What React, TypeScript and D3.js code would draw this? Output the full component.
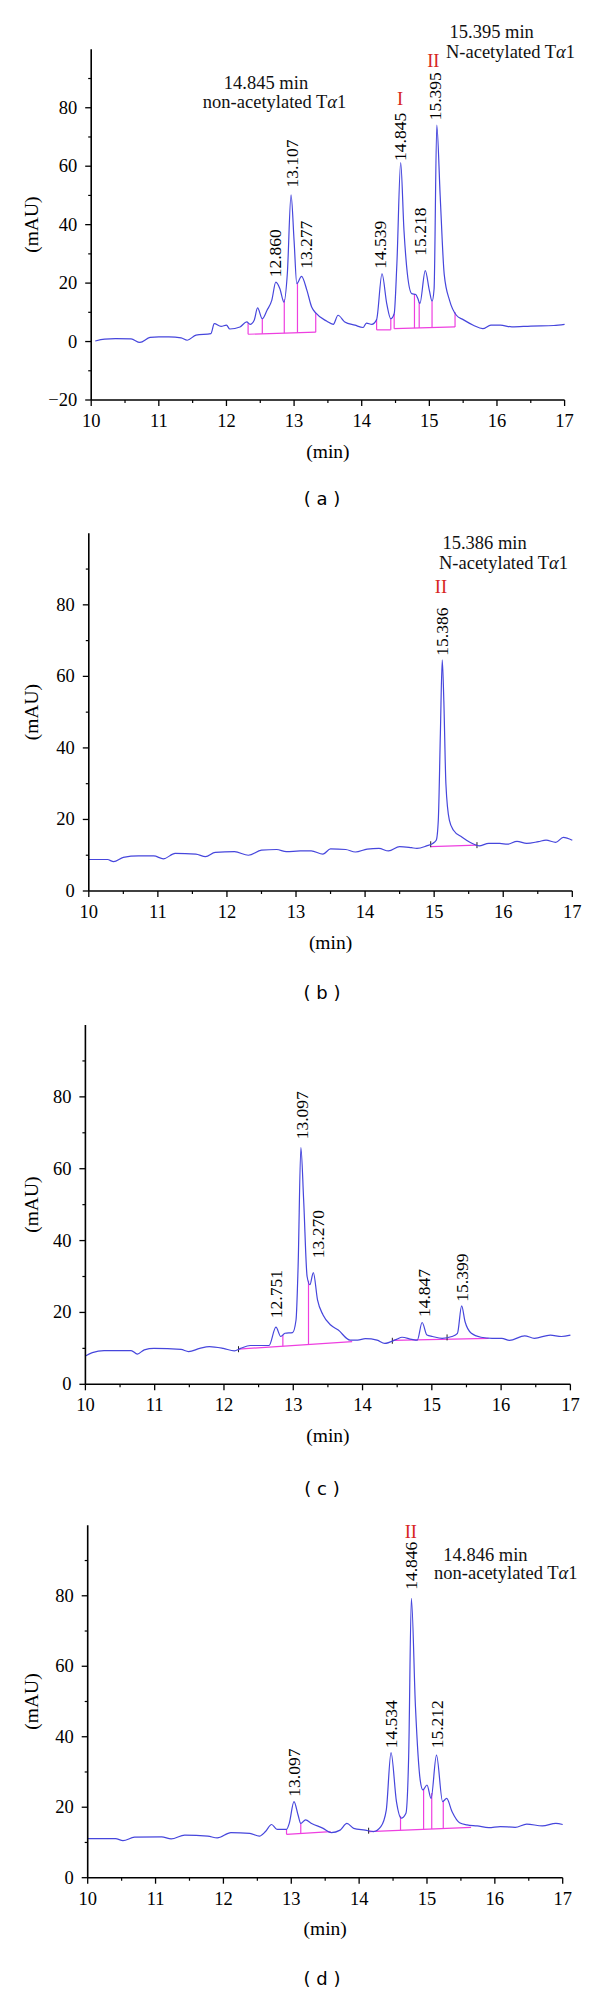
import React from 'react';
import * as d3 from 'd3';

type Pt = [number, number];

// ---------- DATA ----------
const xTicks = [10, 11, 12, 13, 14, 15, 16, 17];
const xMinorTicks = [10.5, 11.5, 12.5, 13.5, 14.5, 15.5, 16.5];
const yTicksA = [-20, 0, 20, 40, 60, 80];
const yMinorA = [-10, 10, 30, 50, 70, 90];
const yTicks = [0, 20, 40, 60, 80];
const yMinor = [10, 30, 50, 70, 90];

const traceA: Pt[] = [
  [10.06, 0.2], [10.2, 0.8], [10.36, 1.0], [10.59, 0.9], [10.72, -0.3], [10.87, 1.4], [11.0, 1.6], [11.15, 1.6],
  [11.33, 1.25], [11.42, 0.45], [11.55, 2.2], [11.77, 2.7], [11.82, 6.1], [11.92, 5.2], [12.0, 5.6], [12.05, 4.3],
  [12.2, 5.0], [12.3, 6.7], [12.35, 5.9], [12.41, 7.3], [12.46, 11.5], [12.53, 7.8], [12.6, 10.7], [12.67, 14.1],
  [12.73, 20.3], [12.79, 18.1], [12.85, 13.5], [12.9, 23.2], [12.955, 50.2], [13.0, 34.5], [13.04, 19.8],
  [13.11, 22.3], [13.19, 17.5], [13.26, 11.8], [13.32, 9.8], [13.48, 7.0], [13.58, 5.9], [13.65, 9.0],
  [13.75, 6.7], [13.9, 5.6], [14.02, 4.8], [14.07, 6.3], [14.15, 5.9], [14.22, 7.5], [14.3, 23.2], [14.37, 13],
  [14.43, 7.8], [14.48, 9.5], [14.52, 26.6], [14.576, 61.2], [14.625, 38], [14.675, 23.2], [14.74, 16.4],
  [14.8, 16.1], [14.83, 14.7], [14.86, 13], [14.94, 24.3], [15.0, 17.5], [15.04, 13.8], [15.07, 18],
  [15.11, 74.1], [15.16, 50], [15.22, 23], [15.3, 14], [15.4, 9], [15.5, 7.5], [15.65, 5.6], [15.79, 4.4],
  [15.91, 5.6], [16.05, 5.6], [16.22, 5.0], [16.5, 5.3], [16.84, 5.5], [17.0, 5.9],
];
const baselinesA = [
  { t0: 12.32, t1: 13.32, v0: 2.5, v1: 3.2, drops: [12.32, 12.53, 12.855, 13.05, 13.32] },
  { t0: 14.22, t1: 14.43, v0: 4.0, v1: 4.0, drops: [14.22, 14.43] },
  { t0: 14.48, t1: 15.38, v0: 4.4, v1: 5.0, drops: [14.48, 14.78, 14.85, 15.04, 15.38] },
];
const peaksA: [string, number, number][] = [
  ['12.860', 12.72, 22.0], ['13.107', 12.965, 52.7], ['13.277', 13.18, 24.9], ['14.539', 14.27, 24.9],
  ['14.845', 14.57, 61.8], ['15.218', 14.86, 29.4], ['15.395', 15.08, 75.7],
];

const traceB: Pt[] = [
  [10.0, 8.8], [10.27, 8.8], [10.36, 8.2], [10.5, 9.4], [10.72, 9.8], [10.94, 9.8], [11.08, 9.0], [11.25, 10.5],
  [11.55, 10.3], [11.69, 9.6], [11.83, 10.8], [12.11, 11.0], [12.31, 10.0], [12.5, 11.4], [12.72, 11.6],
  [12.86, 11.0], [13.06, 11.2], [13.22, 11.2], [13.39, 10.3], [13.5, 11.8], [13.72, 11.6], [13.86, 10.9],
  [14.03, 11.7], [14.2, 11.9], [14.34, 11.2], [14.5, 12.4], [14.67, 12.1], [14.75, 11.9], [14.89, 12.6],
  [14.98, 13.3], [15.03, 14.2], [15.06, 19.8], [15.09, 44], [15.117, 64.6], [15.14, 53.2], [15.17, 30],
  [15.22, 19.8], [15.28, 17.0], [15.4, 15.1], [15.53, 13.5], [15.65, 12.6], [15.79, 13.3], [15.95, 13.3],
  [16.06, 13.1], [16.2, 13.9], [16.34, 13.3], [16.51, 13.8], [16.62, 14.2], [16.76, 13.6], [16.87, 15.0],
  [17.0, 14.2],
];
const baselinesB = [{ t0: 14.95, t1: 15.62, v0: 12.4, v1: 12.8, drops: [] as number[] }];
const marksB = [14.95, 15.62];
const peaksB: [string, number, number][] = [['15.386', 15.117, 65.8]];

const traceC: Pt[] = [
  [10.0, 7.9], [10.1, 8.8], [10.27, 9.4], [10.66, 9.4], [10.75, 8.4], [10.85, 9.6], [10.99, 10.0], [11.38, 9.7],
  [11.49, 9.1], [11.65, 10.0], [11.79, 10.5], [11.99, 10.0], [12.15, 9.3], [12.24, 10.0], [12.38, 10.8],
  [12.65, 10.8], [12.75, 15.9], [12.82, 13.3], [12.88, 14.2], [12.99, 14.4], [13.04, 17.9], [13.07, 32.8],
  [13.11, 65.9], [13.15, 51.3], [13.2, 30], [13.24, 27.7], [13.29, 31.1], [13.35, 23.5], [13.43, 19.3],
  [13.54, 16.5], [13.65, 15.1], [13.82, 12.3], [13.93, 12.3], [14.04, 12.7], [14.21, 12.3], [14.32, 11.4],
  [14.49, 12.5], [14.57, 13.1], [14.71, 12.5], [14.79, 12.3], [14.86, 17.2], [14.93, 13.7], [15.01, 13.3],
  [15.15, 12.8], [15.29, 13.3], [15.37, 14.2], [15.43, 21.8], [15.48, 17.4], [15.57, 14.2], [15.71, 13.1],
  [15.87, 12.8], [16.01, 12.8], [16.12, 12.2], [16.34, 13.5], [16.48, 12.8], [16.71, 13.7], [16.87, 13.3],
  [17.0, 13.7],
];
const baselinesC = [
  { t0: 12.21, t1: 13.85, v0: 9.8, v1: 11.9, drops: [12.85, 13.22] },
  { t0: 14.43, t1: 15.82, v0: 12.2, v1: 12.8, drops: [] as number[] },
];
const marksC = [12.21, 14.43, 15.22];
const peaksC: [string, number, number][] = [
  ['12.751', 12.75, 18.4], ['13.097', 13.125, 68.2], ['13.270', 13.36, 35.1], ['14.847', 14.885, 18.7],
  ['15.399', 15.43, 23.0],
];

const traceD: Pt[] = [
  [10.0, 11.1], [10.41, 11.1], [10.52, 10.5], [10.69, 11.5], [11.09, 11.6], [11.23, 11.0], [11.43, 12.1],
  [11.77, 11.8], [11.91, 11.3], [12.11, 12.8], [12.39, 12.6], [12.53, 11.8], [12.62, 13.1], [12.71, 15.1],
  [12.79, 13.7], [12.93, 13.7], [12.97, 15.4], [13.04, 21.6], [13.1, 17.8], [13.14, 15.4], [13.21, 16.4],
  [13.3, 15.4], [13.47, 14.0], [13.59, 12.8], [13.72, 13.5], [13.82, 15.4], [13.92, 14.0], [14.09, 13.5],
  [14.21, 13.1], [14.32, 14.5], [14.4, 19.2], [14.47, 35.5], [14.55, 21.6], [14.62, 16.9], [14.69, 18.3],
  [14.73, 34.4], [14.77, 79.3], [14.83, 48.6], [14.9, 27.7], [14.94, 24.9], [15.0, 26.3], [15.06, 22.5],
  [15.14, 34.8], [15.23, 21.6], [15.29, 22.5], [15.37, 18.7], [15.48, 15.6], [15.59, 15.0], [15.74, 14.7],
  [15.91, 14.2], [16.08, 14.5], [16.3, 14.3], [16.47, 15.2], [16.7, 14.7], [16.9, 15.4], [17.0, 15.1],
];
const baselinesD = [
  { t0: 12.93, t1: 13.58, v0: 12.3, v1: 13.1, drops: [12.93, 13.14] },
  { t0: 14.14, t1: 15.65, v0: 13.1, v1: 14.3, drops: [14.61, 14.95, 15.07, 15.24] },
];
const marksD = [14.14];
const peaksD: [string, number, number][] = [
  ['13.097', 13.04, 23.0], ['14.534', 14.47, 36.7], ['14.846', 14.77, 81.7], ['15.212', 15.15, 36.7],
];

// ---------- LAYOUT ----------
const SERIF = "'Liberation Serif', 'Times New Roman', serif";
const SANS = "'DejaVu Sans', Verdana, sans-serif";
const BLUE = '#4646dc';
const MAGENTA = '#ee3fe0';
const RED = '#d7261e';

type Ann = { text: string; x: number; y: number; red?: boolean };

const panels = [
  {
    letter: 'a', left: 91.2, right: 564.6, top: 49.3, bottom: 400, yDomain: [-20, 100],
    yTicks: yTicksA, yMinor: yMinorA, trace: traceA, baselines: baselinesA, marks: [] as number[], peaks: peaksA,
    letterY: 498,
    anns: [
      { text: '15.395 min', x: 491.7, y: 31.7 }, { text: 'N-acetylated T', x: 510.5, y: 51.7 },
      { text: 'II', x: 433.3, y: 61, red: true }, { text: 'I', x: 400, y: 99, red: true },
      { text: '14.845 min', x: 266, y: 83.3 }, { text: 'non-acetylated T', x: 274.6, y: 102.3 },
    ] as Ann[],
  },
  {
    letter: 'b', left: 88.8, right: 572.3, top: 533.3, bottom: 891, yDomain: [0, 100],
    yTicks, yMinor, trace: traceB, baselines: baselinesB, marks: marksB, peaks: peaksB, letterY: 992,
    anns: [
      { text: '15.386 min', x: 484.6, y: 542.7 }, { text: 'N-acetylated T', x: 503.5, y: 563.3 },
      { text: 'II', x: 441, y: 587.3, red: true },
    ] as Ann[],
  },
  {
    letter: 'c', left: 85.4, right: 570.4, top: 1025, bottom: 1384.3, yDomain: [0, 100],
    yTicks, yMinor, trace: traceC, baselines: baselinesC, marks: marksC, peaks: peaksC, letterY: 1488,
    anns: [] as Ann[],
  },
  {
    letter: 'd', left: 87.7, right: 562.7, top: 1525.3, bottom: 1877.7, yDomain: [0, 100],
    yTicks, yMinor, trace: traceD, baselines: baselinesD, marks: marksD, peaks: peaksD, letterY: 1978,
    anns: [
      { text: 'II', x: 410.8, y: 1531.7, red: true }, { text: '14.846 min', x: 485.4, y: 1555 },
      { text: 'non-acetylated T', x: 505.8, y: 1573.3 },
    ] as Ann[],
  },
];

function interp(trace: Pt[], t: number) {
  for (let i = 0; i < trace.length - 1; i++) {
    const [t0, v0] = trace[i];
    const [t1, v1] = trace[i + 1];
    if (t >= t0 && t <= t1) return v0 + ((v1 - v0) * (t - t0)) / (t1 - t0);
  }
  return trace[trace.length - 1][1];
}

function Panel({ p }: { p: (typeof panels)[number] }) {
  const x = d3.scaleLinear().domain([10, 17]).range([p.left, p.right]);
  const y = d3.scaleLinear().domain(p.yDomain).range([p.bottom, p.top]);
  const line = d3.line<Pt>().x((d) => x(d[0])).y((d) => y(d[1])).curve(d3.curveMonotoneX);
  const midX = (p.left + p.right) / 2;
  const midY = (p.top + p.bottom) / 2;
  const yBase = y(p.yDomain[0]);

  return (
    <g>
      {/* integration baselines */}
      {p.baselines.map((b, i) => {
        const bv = (t: number) => b.v0 + ((b.v1 - b.v0) * (t - b.t0)) / (b.t1 - b.t0);
        return (
          <g key={i} stroke={MAGENTA} strokeWidth={1.2} fill="none">
            <line x1={x(b.t0)} x2={x(b.t1)} y1={y(b.v0)} y2={y(b.v1)} />
            {b.drops.map((t, j) => (
              <line key={j} x1={x(t)} x2={x(t)} y1={y(bv(t))} y2={y(interp(p.trace, t))} />
            ))}
          </g>
        );
      })}
      {p.marks.map((t, i) => {
        const v = interp(p.trace, t);
        return <line key={i} x1={x(t)} x2={x(t)} y1={y(v) - 3} y2={y(v) + 3} stroke="#222" strokeWidth={1} />;
      })}
      {/* trace */}
      <path d={line(p.trace) || ''} fill="none" stroke={BLUE} strokeWidth={1.2} />

      {/* axes */}
      <line x1={p.left} x2={p.left} y1={p.top} y2={yBase} stroke="#000" strokeWidth={1.6} />
      <line x1={p.left} x2={p.right} y1={yBase} y2={yBase} stroke="#000" strokeWidth={1.6} />
      {p.yTicks.map((v) => (
        <g key={'y' + v}>
          <line x1={p.left - 6} x2={p.left} y1={y(v)} y2={y(v)} stroke="#000" strokeWidth={1.3} />
          <text x={p.left - 14} y={y(v)} textAnchor="end" dominantBaseline="central" fontFamily={SERIF} fontSize={18.5}>
            {v < 0 ? '\u2212' + Math.abs(v) : v}
          </text>
        </g>
      ))}
      {p.yMinor.map((v) => (
        <line key={'ym' + v} x1={p.left - 3} x2={p.left} y1={y(v)} y2={y(v)} stroke="#000" strokeWidth={1.2} />
      ))}
      {xTicks.map((t) => (
        <g key={'x' + t}>
          <line x1={x(t)} x2={x(t)} y1={yBase} y2={yBase + 6} stroke="#000" strokeWidth={1.3} />
          <text x={x(t)} y={yBase + 21} textAnchor="middle" dominantBaseline="central" fontFamily={SERIF} fontSize={18.5}>
            {t}
          </text>
        </g>
      ))}
      {xMinorTicks.map((t) => (
        <line key={'xm' + t} x1={x(t)} x2={x(t)} y1={yBase} y2={yBase + 3} stroke="#000" strokeWidth={1.2} />
      ))}

      {/* axis titles */}
      <text x={midX} y={yBase + 51} textAnchor="middle" dominantBaseline="central" fontFamily={SERIF} fontSize={19.5}>
        (min)
      </text>
      <text
        transform={`translate(31,${midY}) rotate(-90)`}
        textAnchor="middle"
        dominantBaseline="central"
        fontFamily={SERIF}
        fontSize={19.5}
      >
        (mAU)
      </text>
      <text x={322} y={p.letterY} textAnchor="middle" dominantBaseline="central" fontFamily={SANS} fontSize={18}>
        {`( ${p.letter} )`}
      </text>

      {/* peak labels */}
      {p.peaks.map(([txt, t, v]) => (
        <text
          key={txt + t}
          transform={`translate(${x(t)},${y(v)}) rotate(-90)`}
          textAnchor="start"
          dominantBaseline="central"
          fontFamily={SERIF}
          fontSize={17.5}
        >
          {txt}
        </text>
      ))}

      {/* annotations */}
      {p.anns.map((a, i) => (
        <text
          key={i}
          x={a.x}
          y={a.y}
          textAnchor="middle"
          dominantBaseline="central"
          fontFamily={SERIF}
          fontSize={18.5}
          fill={a.red ? RED : '#111'}
        >
          {a.text}
          {a.text.endsWith('T') ? (
            <>
              <tspan fontStyle="italic">α</tspan>1
            </>
          ) : null}
        </text>
      ))}
    </g>
  );
}

export default function App() {
  return (
    <svg
      width={600}
      height={1991}
      viewBox="0 0 600 1991"
      style={{ position: 'absolute', left: 0, top: 0, background: '#fff' }}
    >
      <rect x={0} y={0} width={600} height={1991} fill="#fff" />
      {panels.map((p) => (
        <Panel key={p.letter} p={p} />
      ))}
    </svg>
  );
}
